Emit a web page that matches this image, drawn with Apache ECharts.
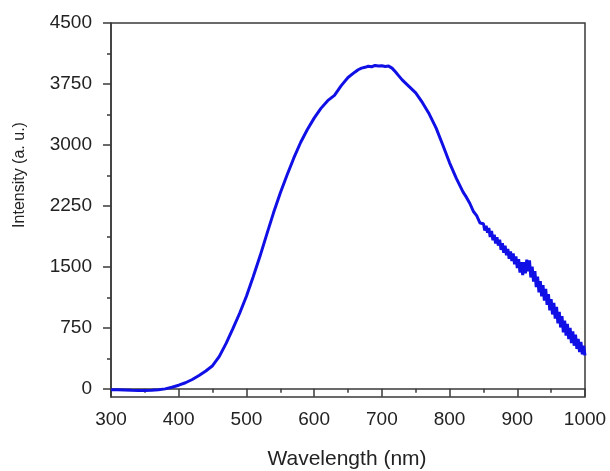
<!DOCTYPE html>
<html><head><meta charset="utf-8">
<script src="https://cdn.jsdelivr.net/npm/echarts@6/dist/echarts.min.js"></script>
<style>html,body{margin:0;padding:0;background:#fff}#c{width:610px;height:471px}</style>
</head><body><div id="c"></div>
<script>
const wavelength = [300,310,320,330,340,350,360,370,380,390,400,410,420,430,440,450,460,470,480,490,500,510,520,530,540,550,560,570,580,590,600,610,620,630,640,650,660,665,670,675,680,685,690,695,700,705,710,715,720,725,730,740,750,760,770,780,790,800,810,820,825,830,835,840,845,
850,852,854,856,858,860,862,864,866,868,870,872,874,876,878,880,882,884,886,888,890,892,894,896,898,900,902,904,906,908,910,912,914,916,918,920,922,924,926,928,930,932,934,936,938,940,942,944,946,948,950,952,954,956,958,960,962,964,966,968,970,972,974,976,978,980,982,984,986,988,990,992,994,996,998,1000];
const intensity = [-10,-12,-15,-18,-20,-20,-18,-12,0,20,45,75,115,165,220,285,400,560,740,930,1140,1380,1630,1900,2165,2410,2630,2840,3030,3190,3330,3450,3545,3610,3730,3830,3895,3925,3945,3955,3968,3962,3978,3970,3975,3965,3970,3945,3900,3850,3800,3720,3640,3520,3380,3210,3000,2780,2590,2420,2355,2280,2185,2130,2040,
2030,1948,2006,1920,1979,1869,1942,1829,1896,1788,1865,1762,1835,1710,1790,1675,1760,1643,1722,1601,1690,1572,1665,1532,1628,1485,1595,1430,1560,1400,1560,1420,1590,1445,1580,1370,1502,1319,1449,1252,1380,1187,1324,1137,1276,1085,1229,1033,1165,965,1105,915,1057,865,1007,805,947,755,895,695,840,655,800,612,750,563,707,531,666,491,616,452,578,424,530,410];
const yMajorTicks = [0,750,1500,2250,3000,3750,4500];
const yMinorTicks = [375,1125,1875,2625,3375,4125];
const xTitle = 'Wavelength (nm)';
const yTitle = 'Intensity (a. u.)';

const FONT = '"Liberation Sans", Arial, sans-serif';
const AX = '#3a3a3a';
const chart = echarts.init(document.getElementById('c'));
chart.setOption({
  animation: false,
  backgroundColor: '#fff',
  grid: {left: 111, right: 25, top: 23, bottom: 74, show: true, borderColor: AX, borderWidth: 1.5, backgroundColor: 'transparent'},
  xAxis: {
    type: 'value', min: 300, max: 1000, interval: 100,
    axisLine: {show: true, lineStyle: {color: AX, width: 1.5}},
    axisTick: {show: true, length: 8, lineStyle: {color: AX, width: 1.5}},
    minorTick: {show: true, splitNumber: 2, length: 4, lineStyle: {color: AX, width: 1.5}},
    splitLine: {show: false},
    axisLabel: {color: '#222', fontSize: 19, fontFamily: FONT, margin: 13, formatter: v => String(v)}
  },
  yAxis: [{
    type: 'value', min: -100, max: 4500,
    axisLine: {show: true, lineStyle: {color: AX, width: 1.5}},
    axisTick: {show: true, length: 8, customValues: yMajorTicks, lineStyle: {color: AX, width: 1.5}},
    splitLine: {show: false},
    axisLabel: {color: '#222', fontSize: 19, fontFamily: FONT, margin: 19, customValues: yMajorTicks, formatter: v => String(v)}
  }, {
    type: 'value', min: -100, max: 4500, position: 'left',
    axisLine: {show: false},
    axisTick: {show: true, length: 4, customValues: yMinorTicks, lineStyle: {color: AX, width: 1.5}},
    splitLine: {show: false},
    axisLabel: {show: false}
  }],
  graphic: [
    {type: 'text', x: 347, y: 459, style: {text: xTitle, align: 'center', verticalAlign: 'middle', textAlign: 'center', textVerticalAlign: 'middle', font: '21px ' + FONT, fill: '#222'}},
    {type: 'text', x: 20, y: 175, rotation: Math.PI / 2, style: {text: yTitle, align: 'center', verticalAlign: 'middle', textAlign: 'center', textVerticalAlign: 'middle', font: '16px ' + FONT, fill: '#222'}}
  ],
  series: [{
    type: 'line', yAxisIndex: 0, showSymbol: false, symbol: 'none',
    data: wavelength.map((w, i) => [w, intensity[i]]),
    lineStyle: {color: '#1010e6', width: 3}
  }]
});
</script></body></html>
